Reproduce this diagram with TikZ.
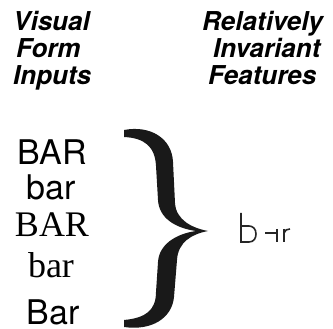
\documentclass[tikz,border=0pt]{standalone}
\usepackage{fontspec}
\setmainfont{Liberation Serif}
\setsansfont{TeX Gyre Heros}
\begin{document}
\begin{tikzpicture}[x=1pt,y=-1pt,
  head/.style={inner sep=0pt,anchor=base west,font=\sffamily\bfseries\itshape\fontsize{26}{26}\selectfont},
  wordsans/.style={inner sep=0pt,anchor=base,font=\sffamily\fontsize{34}{34}\selectfont},
  wordserif/.style={inner sep=0pt,anchor=base,font=\rmfamily\fontsize{36}{36}\selectfont},
  feat/.style={line width=1.6pt,black!85}]
\useasboundingbox (0,0) rectangle (333,329);

% column headings
\node[head] (h1) at (13,31) {Visual};
\node[head] (h2) at (16,58) {Form};
\node[head] (h3) at (13,85) {Inputs};
\node[head] (h4) at (202,31) {Relatively};
\node[head] (h5) at (213,58) {Invariant};
\node[head] (h6) at (208,85) {Features};

% the five printed forms of the word
\node[wordsans]  (w1) at (52,165) {BAR};
\node[wordsans]  (w2) at (51,200) {bar};
\node[wordserif] (w3) at (52,237) {BAR};
\node[wordserif] (w4) at (51,278) {bar};
\node[wordsans]  (w5) at (53,325) {Bar};

% the brace gathering them
\fill[black!90]
  (124,130) .. controls (150,125) and (172,138) .. (173,162)
  -- (175,203)
  .. controls (176,220) and (192,228) .. (208,231)
  .. controls (192,234) and (178,242) .. (177,260)
  -- (174,297)
  .. controls (172,318) and (152,331) .. (124,327)
  -- (124,320)
  .. controls (146,318) and (156,310) .. (156,292)
  -- (158,262)
  .. controls (159,245) and (175,234) .. (196,231)
  .. controls (175,228) and (159,218) .. (158,200)
  -- (156,166)
  .. controls (155,146) and (144,138) .. (124,137)
  -- cycle;

% stroke features of the word
\draw[feat] (241,213) -- (241,242) -- (249,242)
  .. controls (254,242) and (256,238) .. (256,234)
  .. controls (256,229) and (253,226) .. (249,226) -- (241,226);
\draw[feat] (265,233) -- (277,233);
\draw[feat] (277,229) -- (277,242);
\draw[feat] (284,229) -- (284,242);
\draw[feat] (284,233) .. controls (285,230) and (287,229) .. (290,229);
\end{tikzpicture}
\end{document}
